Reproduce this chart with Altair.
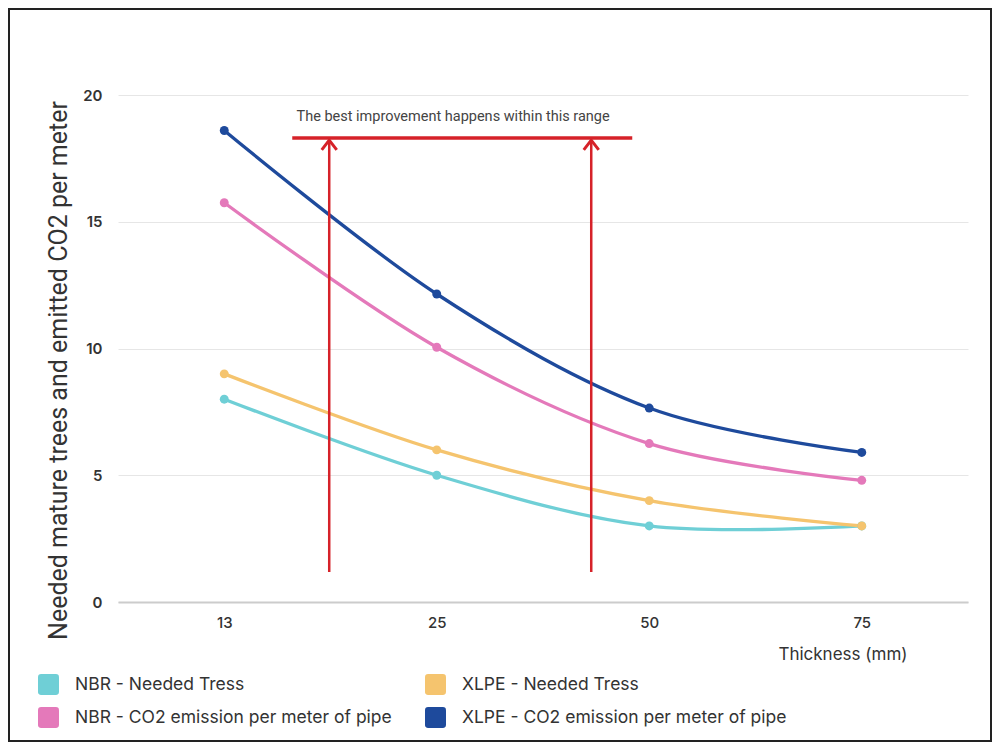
import altair as alt
import pandas as pd

thickness = ["13", "25", "50", "75"]
positions = [0, 1, 2, 3]
series_names = [
    "NBR - Needed Tress",
    "XLPE - Needed Tress",
    "NBR - CO2 emission per meter of pipe",
    "XLPE - CO2 emission per meter of pipe",
]
series_colors = ["#6FCFD6", "#F5C46E", "#E479BA", "#1E4A9C"]
nbr_trees = [8.0, 5.0, 3.0, 3.0]
xlpe_trees = [9.0, 6.0, 4.0, 3.0]
nbr_co2 = [15.75, 10.05, 6.25, 4.8]
xlpe_co2 = [18.6, 12.15, 7.65, 5.9]

note_text = "The best improvement happens within this range"
note_pos = [0.34, 19.12]
bar_x = [0.32, 1.92]
bar_y = 18.3
arrow_x = [0.494, 1.727]
arrow_y = [1.18, 18.22]

rows = []
for name, vals in zip(series_names, [nbr_trees, xlpe_trees, nbr_co2, xlpe_co2]):
    for p, v in zip(positions, vals):
        rows.append({"series": name, "pos": p, "value": v})
df = pd.DataFrame(rows)

label_expr = "[" + ",".join("'%s'" % t for t in thickness) + "][datum.value]"

W, H = 850, 507
FONT = "Roboto"
FONT2 = "Inter"

rounded = ("M -0.7 -1 L 0.7 -1 Q 1 -1 1 -0.7 L 1 0.7 Q 1 1 0.7 1 L -0.7 1 "
           "Q -1 1 -1 0.7 L -1 -0.7 Q -1 -1 -0.7 -1 Z")

xs = alt.Scale(domain=[-0.5, 3.5], nice=False, zero=False)
ys = alt.Scale(domain=[0, 20], nice=False)
cs = alt.Scale(domain=series_names, range=series_colors)

x_axis = alt.Axis(
    values=positions, labelExpr=label_expr, grid=False, ticks=False,
    domain=True, domainColor="#cccccc", domainWidth=2,
    labelFont=FONT2, labelFontSize=15, labelFontWeight=500, labelColor="#333333",
    labelPadding=13,
    title="Thickness (mm)", titleFont=FONT2, titleFontSize=17, titleFontWeight="normal",
    titleColor="#333333", titleX=789, titleY=52, titleAlign="right", titleBaseline="middle",
)
y_axis = alt.Axis(
    values=[0, 5, 10, 15, 20], grid=True, gridColor="#e6e6e6", ticks=False, domain=False,
    labelFont=FONT2, labelFontSize=15, labelColor="#333333", labelPadding=16,
    labelFontWeight=600,
    title="Needed mature trees and emitted CO2 per meter", titleFont=FONT,
    titleFontSize=25, titleFontWeight="normal", titleColor="#333333",
    titleX=-60, titleY=275, titleBaseline="middle", titleAngle=270,
)

base = alt.Chart(df)
lines = base.mark_line(strokeWidth=3.3, interpolate="cardinal").encode(
    x=alt.X("pos:Q", scale=xs, axis=x_axis),
    y=alt.Y("value:Q", scale=ys, axis=y_axis),
    color=alt.Color("series:N", scale=cs, legend=None),
)
points = base.mark_point(filled=True, size=80, opacity=1).encode(
    x=alt.X("pos:Q", scale=xs),
    y=alt.Y("value:Q", scale=ys),
    color=alt.Color(
        "series:N", scale=cs,
        legend=alt.Legend(
            orient="none", legendX=-80, legendY=579, columns=2, direction="horizontal",
            title=None,
            symbolType=rounded, symbolSize=441, symbolStrokeWidth=0, symbolOpacity=1,
            labelFont=FONT2, labelFontSize=17.5, labelColor="#333333", labelOffset=16,
            columnPadding=33, rowPadding=12, padding=0, labelLimit=400,
        ),
    ),
)

note_df = pd.DataFrame({"x": [note_pos[0]], "y": [note_pos[1]], "t": [note_text]})
note = alt.Chart(note_df).mark_text(
    align="left", baseline="middle", font=FONT, fontSize=14.5, color="#444444"
).encode(x=alt.X("x:Q", scale=xs), y=alt.Y("y:Q", scale=ys), text="t:N")

bar_df = pd.DataFrame({"x": [bar_x[0]], "x2": [bar_x[1]], "y": [bar_y]})
hbar = alt.Chart(bar_df).mark_rule(color="#D62229", strokeWidth=3.5).encode(
    x=alt.X("x:Q", scale=xs), x2="x2:Q", y=alt.Y("y:Q", scale=ys)
)

arr_df = pd.DataFrame({"x": arrow_x, "y": [arrow_y[0]] * 2, "y2": [arrow_y[1]] * 2})
shafts = alt.Chart(arr_df).mark_rule(color="#D62229", strokeWidth=2.5).encode(
    x=alt.X("x:Q", scale=xs), y=alt.Y("y:Q", scale=ys), y2="y2:Q"
)
heads = alt.Chart(arr_df).mark_point(
    shape="M -1 1.3 L 0 0 L 1 1.3", filled=False, size=225, strokeWidth=3,
    color="#D62229", opacity=1,
).encode(x=alt.X("x:Q", scale=xs), y=alt.Y("y2:Q", scale=ys))

frame_df = pd.DataFrame({"k": [0]})
frame = alt.Chart(frame_df).mark_rect(
    fill="transparent", stroke="#222222", strokeWidth=2
).encode(
    x=alt.value(-109), x2=alt.value(W + 23), y=alt.value(-86), y2=alt.value(H + 139)
)

chart = alt.layer(frame, lines, points, shafts, heads, hbar, note).resolve_legend(
    color="independent"
).properties(
    width=W, height=H,
    autosize=alt.AutoSizeParams(type="none"),
    padding={"left": 110, "top": 87, "right": 24, "bottom": 140},
    background="white",
).configure_view(stroke=None)

chart.save("out.html", embed_options={"renderer": "svg", "actions": False})
